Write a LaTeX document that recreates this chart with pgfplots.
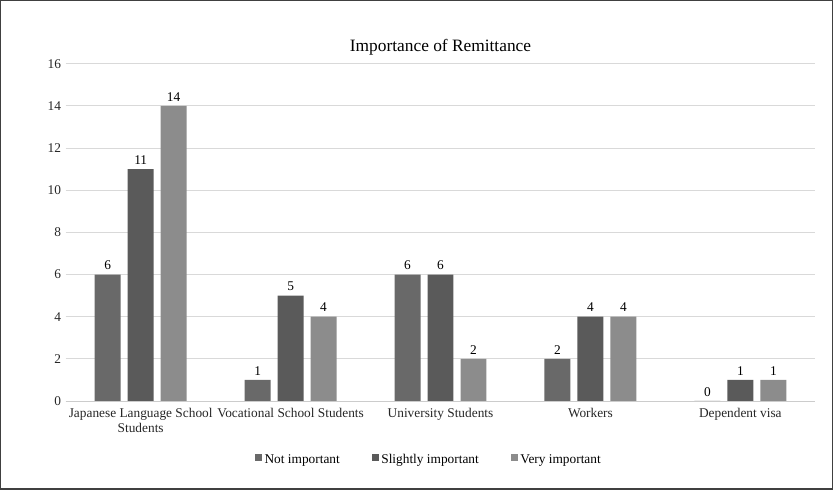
\documentclass[border=0pt]{standalone}
\usepackage{pgfplots}
\pgfplotsset{compat=1.18}
\usepackage{fontspec}
\setmainfont{Liberation Serif}
\definecolor{cNot}{HTML}{696969}
\definecolor{cSl}{HTML}{5A5A5A}
\definecolor{cVery}{HTML}{8C8C8C}
\begin{document}
\begin{tikzpicture}[x=0.75pt,y=0.75pt]
\draw[black!75, line width=1pt] (-65,-88) rectangle (766,400);
\begin{axis}[
  at={(0,0)}, anchor=south west,
  scale only axis, width=561.75pt, height=252.75pt,
  ybar, bar width=0.173,
  xmin=-0.5, xmax=4.5, ymin=0, ymax=16,
  ytick={0,2,...,16},
  xtick=data,
  xticklabels={{Japanese Language School\\Students},{Vocational School Students},{University Students},{Workers},{Dependent visa}},
  xticklabel style={align=center, font=\fontsize{10}{11}\selectfont, text=black!85, yshift=2pt},
  yticklabel style={font=\fontsize{10}{11}\selectfont, text=black!85},
  /pgf/number format/assume math mode=true,
  axis x line*=bottom, axis y line*=left,
  x axis line style={draw=black!20, line width=0.6pt, -},
  y axis line style={draw=none},
  ytick style={draw=none}, xtick style={draw=none},
  ymajorgrids, grid style={black!15, line width=0.6pt},
  title={Importance of Remittance},
  title style={font=\fontsize{13}{15}\selectfont, yshift=-3pt},
  nodes near coords,
  nodes near coords style={font=\fontsize{10}{11}\selectfont, text=black},
  legend style={at={(0.485,-0.14)}, anchor=north, draw=none, legend columns=3, font=\fontsize{10}{11}\selectfont,
    nodes={text depth=2.5pt, text height=7pt},
    /tikz/every even column/.append style={column sep=22pt}},
  legend image code/.code={\fill[#1] (0cm,-0.03cm) rectangle (0.18cm,0.15cm);},
]
\addplot[fill=cNot, draw=none, bar shift=-0.22] coordinates {(0,6) (1,1) (2,6) (3,2) (4,0)};
\addplot[fill=cSl, draw=none, bar shift=0] coordinates {(0,11) (1,5) (2,6) (3,4) (4,1)};
\addplot[fill=cVery, draw=none, bar shift=0.22] coordinates {(0,14) (1,4) (2,2) (3,4) (4,1)};
\legend{Not important, Slightly important, Very important}
\end{axis}
\end{tikzpicture}
\end{document}
